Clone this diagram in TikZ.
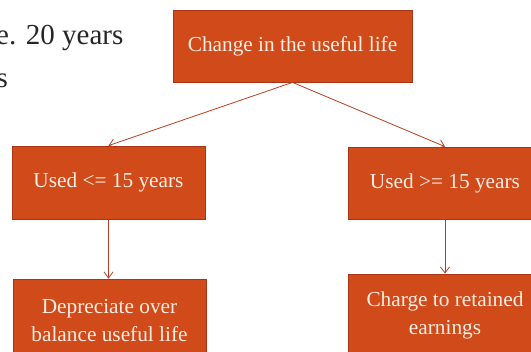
\documentclass[tikz,border=0pt]{standalone}
\usepackage{fontspec}
\setmainfont{Liberation Serif}
\usetikzlibrary{arrows.meta}
\definecolor{boxfill}{RGB}{209,74,26}
\definecolor{boxline}{RGB}{170,52,22}
\definecolor{arrowcol}{RGB}{185,62,30}
\definecolor{boxtext}{RGB}{250,238,228}
\tikzset{
  flowbox/.style={draw=boxline, line width=0.8pt, fill=boxfill, text=boxtext,
    font=\fontsize{21.3}{28}\selectfont, align=center, inner sep=0pt},
  flowarrow/.style={draw=arrowcol, line width=0.8pt, -{Straight Barb[length=6pt,width=9pt]}},
  bgtext/.style={text=black!85, font=\fontsize{29}{34}\selectfont, inner sep=0pt}
}
\begin{document}
\begin{tikzpicture}[x=1pt,y=-1pt]
\useasboundingbox (0,0) rectangle (531,352);
\clip (0,0) rectangle (531,352);
\node[bgtext, anchor=base west] (frag1) at (-4,45) {e. 20 years};
\node[bgtext, anchor=base east] (frag2) at (8,88) {s};
\node[flowbox, minimum width=239pt, minimum height=72pt] (top) at (292.5,46) {Change in the useful life};
\node[flowbox, minimum width=193pt, minimum height=73pt] (lmid) at (108.5,182.5) {Used <= 15 years};
\node[flowbox, minimum width=194pt, minimum height=72pt] (rmid) at (445,183) {Used >= 15 years};
\node[flowbox, minimum width=193pt, minimum height=84pt] (lbot) at (109.5,321) {Depreciate over\\balance useful life};
\node[flowbox, minimum width=194pt, minimum height=82pt] (rbot) at (445,315) {Charge to retained\\earnings};
\draw[flowarrow] (top.south) -- (lmid.north);
\draw[flowarrow] (top.south) -- (rmid.north);
\draw[flowarrow] (lmid.south) -- (lmid.south |- lbot.north);
\draw[flowarrow] (rmid.south) -- (rbot.north);
\end{tikzpicture}
\end{document}
